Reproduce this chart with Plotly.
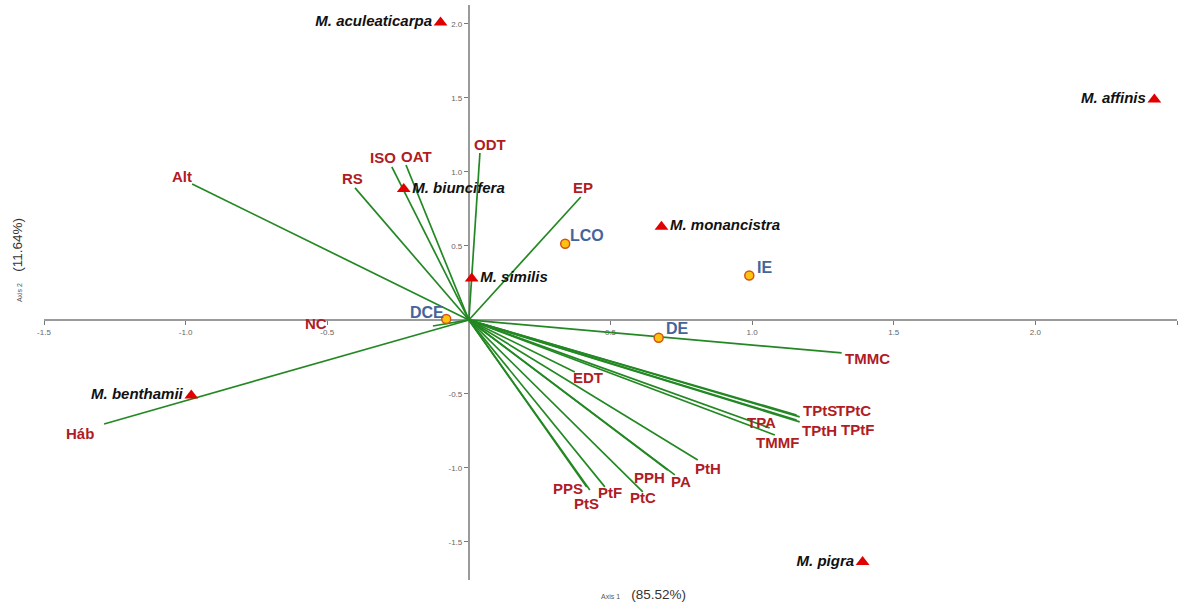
import plotly.graph_objects as go

# ---------------- data ----------------
species = ["M. aculeaticarpa", "M. affinis", "M. biuncifera", "M. monancistra",
           "M. similis", "M. benthamii", "M. pigra"]
species_x = [-0.10, 2.42, -0.23, 0.68, 0.01, -0.98, 1.39]
species_y = [2.01, 1.49, 0.885, 0.63, 0.28, -0.51, -1.635]

site_names = ["LCO", "IE", "DCE", "DE"]
site_x = [0.34, 0.99, -0.08, 0.67]
site_y = [0.515, 0.30, 0.007, -0.12]

var_names = ["Alt", "RS", "ISO", "OAT", "ODT", "EP", "NC", "Háb", "TMMC",
             "TPtS", "TPtC", "TPtH", "TPtF", "TPA", "TMMF", "EDT",
             "PtH", "PA", "PPH", "PtC", "PtF", "PtS", "PPS"]
var_x = [-0.977, -0.402, -0.272, -0.222, 0.039, 0.395, -0.127, -1.288, 1.316,
         1.157, 1.168, 1.157, 1.168, 1.062, 1.080, 0.374,
         0.808, 0.727, 0.702, 0.614, 0.480, 0.427, 0.416]
var_y = [0.919, 0.892, 1.034, 1.047, 1.128, 0.831, -0.041, -0.703, -0.223,
         -0.642, -0.655, -0.676, -0.689, -0.730, -0.777, -0.351,
         -0.946, -1.047, -1.014, -1.162, -1.128, -1.149, -1.128]

x_ticks = [-1.5, -1.0, -0.5, 0.5, 1.0, 1.5, 2.0, 2.5]
x_ticktext = ["-1.5", "-1.0", "-0.5", "0.5", "1.0", "1.5", "2.0", "2.5"]
y_ticks = [2.0, 1.5, 1.0, 0.5, -0.5, -1.0, -1.5]
y_ticktext = ["2.0", "1.5", "1.0", "0.5", "-0.5", "-1.0", "-1.5"]

axis1_title = "Axis 1"
axis1_pct = "(85.52%)"
axis2_title = "Axis 2"
axis2_pct = "(11.64%)"

# ---------------- style ----------------
FONT = "Liberation Sans, Arial, sans-serif"
RED_TXT = "#B01C24"
BLUE_TXT = "#45659A"
GREEN = "#238823"
W, H = 1183, 603
ML, MR, MT, MB = 44, 6, 5, 23
X_RANGE = [-1.5, 2.5]
Y_RANGE = [-1.757, 2.128]

# label pixel offsets (dx right, dy up)
var_offsets = {
    "Alt": (-10, 7), "RS": (-3, 9), "ISO": (-9, 9), "OAT": (11, 8), "ODT": (10, 9),
    "EP": (2, 9), "NC": (-117, 3), "Háb": (-24, -9), "TMMC": (26, -6),
    "TPtS": (23, 4), "TPtC": (54, 6), "TPtH": (23, -10), "TPtF": (58, -8),
    "TPA": (-8, 6), "TMMF": (3, -8), "EDT": (13, -6), "PtH": (10, -9),
    "PA": (6, -7), "PPH": (-18, -7), "PtC": (0, -6), "PtF": (5, -6),
    "PtS": (-3, -13), "PPS": (-19, -2),
}
site_offsets = {"LCO": (22, 8), "IE": (15, 8), "DCE": (-19, 6), "DE": (19, 9)}

fig = go.Figure()

# vectors
lx, ly = [], []
for vx, vy in zip(var_x, var_y):
    lx += [0, vx, None]
    ly += [0, vy, None]
fig.add_trace(go.Scatter(x=lx, y=ly, mode="lines",
                         line=dict(color=GREEN, width=1.7),
                         hoverinfo="skip", showlegend=False))

# sites (orange circles)
fig.add_trace(go.Scatter(
    x=site_x, y=site_y, mode="markers",
    marker=dict(symbol="circle", size=9, color="#FFC20E",
                line=dict(color="#D0531A", width=1.5)),
    showlegend=False))
for name, sx, sy in zip(site_names, site_x, site_y):
    dx, dy = site_offsets[name]
    fig.add_annotation(x=sx, y=sy, text=f"<b>{name}</b>", showarrow=False,
                       xshift=dx, yshift=dy,
                       font=dict(family=FONT, size=16, color=BLUE_TXT))

# species (red triangles)
fig.add_trace(go.Scatter(
    x=species_x, y=species_y, mode="markers+text",
    text=[f"<b><i>{s}</i></b>" for s in species],
    textposition=["middle left", "middle left", "middle right", "middle right",
                  "middle right", "middle left", "middle left"],
    textfont=dict(family=FONT, size=15, color="#111111"),
    marker=dict(symbol="triangle-up", size=12, color="#E00000"),
    showlegend=False))

# vector labels
for name, vx, vy in zip(var_names, var_x, var_y):
    dx, dy = var_offsets[name]
    fig.add_annotation(x=vx, y=vy, text=f"<b>{name}</b>", showarrow=False,
                       xshift=dx, yshift=dy,
                       font=dict(family=FONT, size=15, color=RED_TXT))

# axis titles
fig.add_annotation(xref="paper", yref="paper", x=0.529, y=-0.025,
                   xanchor="center", yanchor="middle",
                   text=f"<span style='font-size:7px;color:#555'>{axis1_title}</span>   {axis1_pct}",
                   showarrow=False, font=dict(family=FONT, size=13.5, color="#333"))
fig.add_annotation(xref="paper", yref="paper", x=-0.0235, y=0.557, textangle=-90,
                   xanchor="center", yanchor="middle",
                   text=f"<span style='font-size:7px;color:#555'>{axis2_title}</span>   {axis2_pct}",
                   showarrow=False, font=dict(family=FONT, size=13.5, color="#333"))

x_pos = (0 - X_RANGE[0]) / (X_RANGE[1] - X_RANGE[0])
y_pos = (0 - Y_RANGE[0]) / (Y_RANGE[1] - Y_RANGE[0])

fig.update_layout(
    width=W, height=H,
    margin=dict(l=ML, r=MR, t=MT, b=MB),
    plot_bgcolor="white", paper_bgcolor="white",
    xaxis=dict(range=X_RANGE, anchor="free", position=y_pos,
               showline=True, linecolor="#9a9a9a", linewidth=2,
               showgrid=False, zeroline=False,
               tickvals=x_ticks, ticktext=x_ticktext, ticks="outside",
               ticklen=4, tickcolor="#777", layer="below traces",
               tickfont=dict(family=FONT, size=8, color="#666")),
    yaxis=dict(range=Y_RANGE, anchor="free", position=x_pos,
               showline=True, linecolor="#9a9a9a", linewidth=2,
               showgrid=False, zeroline=False,
               tickvals=y_ticks, ticktext=y_ticktext, ticks="outside",
               ticklen=4, tickcolor="#777", layer="below traces",
               tickfont=dict(family=FONT, size=8, color="#666")),
)

fig.write_html("out.html")
